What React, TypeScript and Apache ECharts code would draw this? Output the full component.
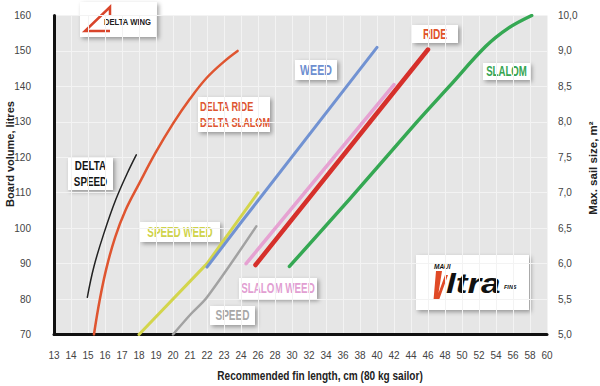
import React, { useEffect, useRef } from "react";
import * as echarts from "echarts";

// ---- Axis tick labels ----
const xTickLabels = [
  "13", "14", "15", "16", "17", "18", "19", "20", "21", "22", "23", "24",
  "26", "28", "30", "32", "34", "36", "38", "40", "42", "44", "46", "48",
  "50", "52", "54", "56", "58", "60",
];
const sailTickLabels = ["5,0", "5,5", "6,0", "6,5", "7,0", "7,5", "8,0", "8,5", "9,0", "10,0"];

// ---- Series data: fin length (cm) / board volume (litres) ----
const deltaSpeedLen = [14.96, 15.35, 15.94, 16.63, 17.31, 17.84];
const deltaSpeedVol = [80.5, 89.2, 98.6, 108, 115.5, 120.7];

const deltaRideLen = [15.35, 15.7, 16.1, 16.6, 17.2, 18, 19, 20, 21, 22, 23, 23.8];
const deltaRideVol = [70, 80, 89, 97.5, 105, 112.5, 121.5, 129.5, 136.5, 142.5, 147, 150];

const speedWeedLen = [18, 22, 26];
const speedWeedVol = [70, 90, 110];

const weedLen = [22, 24, 40];
const weedVol = [89, 101.6, 151];

const speedLen = [20, 21, 22, 25.8];
const speedVol = [70, 75.5, 80.5, 100.5];

const slalomWeedLen = [24.6, 42];
const slalomWeedVol = [90, 140.5];

const rideLen = [25.7, 46];
const rideVol = [89.6, 150.4];

const slalomLen = [29.7, 36.7, 44.6, 48.5, 52.8, 55.5, 58.2];
const slalomVol = [89.2, 108, 129.7, 140, 151.3, 156.5, 160];

// fin length -> position on the piecewise x axis (1 cm steps to 24, then 2 cm steps)
const toIdx = (cm: number) => (cm <= 24 ? cm - 13 : 11 + (cm - 24) / 2);
const pts = (len: number[], vol: number[]) => len.map((l, i) => [toIdx(l), vol[i]]);

const SANS = "'Liberation Sans', Arial, Helvetica, sans-serif";

echarts.graphic.registerShape(
  "ultraV",
  echarts.graphic.extendPath("M4 0 L10 0 L6.5 22 L13 4 L16 4 L7 29 L1.5 29 Z", {}) as any
);

const shadowFill = {
  fill: "#ffffff",
  shadowBlur: 4,
  shadowOffsetX: 2,
  shadowOffsetY: 2,
  shadowColor: "rgba(0,0,0,0.35)",
};

function labelBox(x: number, y: number, w: number, h: number, text: string, color: string, opts: any = {}) {
  const align = opts.align || "center";
  const tx = align === "left" ? x + (opts.pad ?? 3) : x + w / 2;
  return {
    type: "group",
    children: [
      { type: "rect", shape: { x, y, width: w, height: h }, style: shadowFill },
      {
        type: "text",
        x: tx,
        y: y + h / 2 + (opts.dy ?? 0),
        scaleX: opts.scaleX ?? 0.7,
        style: {
          text,
          fill: color,
          fontFamily: SANS,
          fontWeight: "bold",
          fontSize: opts.fontSize ?? 14,
          lineHeight: opts.lineHeight ?? 16,
          align,
          verticalAlign: "middle",
        },
      },
    ],
  };
}

const App: React.FC = () => {
  const ref = useRef<HTMLDivElement>(null);

  useEffect(() => {
    document.body.style.margin = "0";
    if (!ref.current) return;
    const chart = echarts.init(ref.current, null, { renderer: "svg" });

    const line = (name: string, data: number[][], color: string, width: number, smooth: number | boolean) => ({
      name,
      type: "line",
      data,
      smooth,
      symbol: "none",
      lineStyle: { color, width, cap: "round", join: "round" },
      z: 3,
    });

    chart.setOption({
      animation: false,
      backgroundColor: "#ffffff",
      grid: {
        left: 54,
        right: 53,
        top: 15.5,
        bottom: 51.5,
        show: true,
        backgroundColor: "#e6e6e6",
        borderWidth: 0,
      },
      xAxis: {
        type: "value",
        min: 0,
        max: 29,
        interval: 1,
        axisLine: { show: true, onZero: false, lineStyle: { color: "#111", width: 3 } },
        axisTick: { show: false },
        splitLine: { show: true, lineStyle: { color: "#f3f3f3", width: 1 } },
        axisLabel: {
          formatter: (v: number) => xTickLabels[Math.round(v)] ?? "",
          color: "#444",
          fontFamily: SANS,
          fontSize: 10,
          margin: 16,
        },
      },
      yAxis: [
        {
          type: "value",
          min: 70,
          max: 160,
          interval: 10,
          position: "left",
          axisLine: { show: true, lineStyle: { color: "#111", width: 3 } },
          axisTick: { show: false },
          splitLine: { show: true, lineStyle: { color: "#f3f3f3", width: 1 } },
          axisLabel: { color: "#444", fontFamily: SANS, fontSize: 10, margin: 23 },
        },
        {
          type: "value",
          min: 70,
          max: 160,
          interval: 10,
          position: "right",
          axisLine: { show: false },
          axisTick: { show: false },
          splitLine: { show: false },
          axisLabel: {
            formatter: (v: number) => sailTickLabels[Math.round((v - 70) / 10)] ?? "",
            color: "#444",
            fontFamily: SANS,
            fontSize: 10,
            margin: 11,
          },
        },
      ],
      series: [
        line("Delta Speed", pts(deltaSpeedLen, deltaSpeedVol), "#222222", 1.5, 0.4),
        line("Delta Ride / Delta Slalom", pts(deltaRideLen, deltaRideVol), "#df5530", 2.5, 0.4),
        line("Speed Weed", pts(speedWeedLen, speedWeedVol), "#d3d54c", 3, false),
        line("Weed", pts(weedLen, weedVol), "#7192d2", 3, false),
        line("Speed", pts(speedLen, speedVol), "#a2a2a2", 2.5, 0.3),
        line("Slalom Weed", pts(slalomWeedLen, slalomWeedVol), "#e6a2d2", 3.5, false),
        line("Ride", pts(rideLen, rideVol), "#d6302b", 4.5, false),
        line("Slalom", pts(slalomLen, slalomVol), "#35a853", 3.5, 0.35),
      ],
      graphic: [
        // axis names
        {
          type: "text",
          x: 10,
          y: 154,
          rotation: Math.PI / 2,
          style: {
            text: "Board volume, litres",
            fill: "#222",
            fontFamily: SANS,
            fontWeight: "bold",
            fontSize: 11,
            align: "center",
            verticalAlign: "middle",
          },
        },
        {
          type: "text",
          x: 593,
          y: 168,
          rotation: Math.PI / 2,
          style: {
            text: "Max. sail size, m²",
            fill: "#222",
            fontFamily: SANS,
            fontWeight: "bold",
            fontSize: 11.5,
            align: "center",
            verticalAlign: "middle",
          },
        },
        {
          type: "text",
          x: 320,
          y: 376,
          scaleX: 0.84,
          style: {
            text: "Recommended fin length, cm (80 kg sailor)",
            fill: "#222",
            fontFamily: SANS,
            fontWeight: "bold",
            fontSize: 12,
            align: "center",
            verticalAlign: "middle",
          },
        },
        // Delta Wing logo
        {
          type: "group",
          children: [
            { type: "rect", shape: { x: 80, y: 2, width: 77, height: 35 }, style: shadowFill },
            {
              type: "polyline",
              shape: { points: [[110, 16], [110, 7], [85, 31], [110, 31]] },
              style: { stroke: "#d9452b", lineWidth: 2.5, fill: "none", lineJoin: "miter" },
            },
            {
              type: "text",
              x: 104,
              y: 22,
              scaleX: 0.9,
              style: {
                text: "DELTA WING",
                fill: "#222",
                fontFamily: SANS,
                fontWeight: "bold",
                fontSize: 8.5,
                align: "left",
                verticalAlign: "middle",
              },
            },
          ],
        },
        labelBox(68, 157, 45, 33, "DELTA\nSPEED", "#151515", { fontSize: 12, lineHeight: 16, scaleX: 0.82 }),
        labelBox(198, 97, 72, 35, "DELTA RIDE\nDELTA SLALOM", "#dd5530", {
          align: "left",
          pad: 2,
          lineHeight: 16.5,
          fontSize: 13.5,
          scaleX: 0.68,
        }),
        labelBox(295, 60, 42, 20, "WEED", "#6d8fd0", { scaleX: 0.76 }),
        labelBox(412, 25, 46, 18, "RIDE", "#e0522a", { scaleX: 0.72 }),
        labelBox(483, 63, 47, 17, "SLALOM", "#36a552", { scaleX: 0.69 }),
        labelBox(140, 222, 80, 20, "SPEED WEED", "#cfd34a"),
        labelBox(239, 278, 78, 21, "SLALOM WEED", "#e29fd2"),
        labelBox(210, 306, 45, 19, "SPEED", "#a8a8a8", { scaleX: 0.72 }),
        // Maui Ultra Fins logo
        {
          type: "group",
          children: [
            { type: "rect", shape: { x: 416, y: 255, width: 113, height: 55 }, style: shadowFill },
            {
              type: "text",
              x: 434,
              y: 266,
              style: {
                text: "MAUI",
                fill: "#111",
                fontFamily: SANS,
                fontWeight: "bold",
                fontStyle: "italic",
                fontSize: 6.5,
                align: "left",
                verticalAlign: "middle",
              },
            },
            {
              type: "ultraV",
              x: 432,
              y: 271,
              style: { fill: "#e04a26" },
            },
            {
              type: "text",
              x: 446,
              y: 284,
              scaleX: 1.3,
              style: {
                text: "ltra",
                fill: "#111",
                fontFamily: SANS,
                fontWeight: 900,
                fontStyle: "italic",
                fontSize: 27,
                align: "left",
                verticalAlign: "middle",
              },
            },
            {
              type: "text",
              x: 504,
              y: 287,
              style: {
                text: "FINS",
                fill: "#111",
                fontFamily: SANS,
                fontWeight: "bold",
                fontStyle: "italic",
                fontSize: 5.5,
                align: "left",
                verticalAlign: "middle",
              },
            },
          ],
        },
      ],
    });

    return () => chart.dispose();
  }, []);

  return <div ref={ref} style={{ width: 600, height: 386 }} />;
};

export default App;
